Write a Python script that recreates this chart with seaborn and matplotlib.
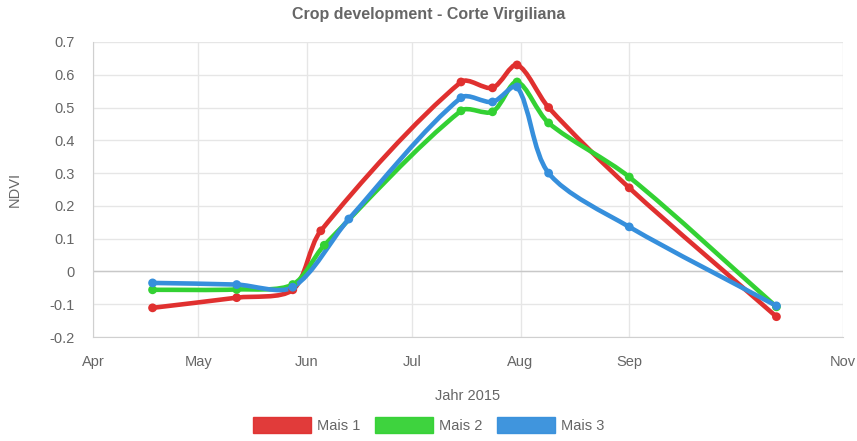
import numpy as np
import pandas as pd
import matplotlib
matplotlib.use("Agg")
import matplotlib.pyplot as plt
import matplotlib.dates as mdates
from matplotlib.path import Path
from matplotlib.patches import PathPatch, Patch
import seaborn as sns

# NDVI readings per field (dates differ slightly between the series)
dates_mais1 = ["2015-04-18", "2015-05-12", "2015-05-28", "2015-06-05", "2015-07-15",
               "2015-07-24", "2015-07-31", "2015-08-09", "2015-09-01", "2015-10-13"]
ndvi_mais1 = [-0.111, -0.080, -0.056, 0.124, 0.578, 0.560, 0.630, 0.500, 0.255, -0.138]

dates_mais2 = ["2015-04-18", "2015-05-12", "2015-05-28", "2015-06-06", "2015-07-15",
               "2015-07-24", "2015-07-31", "2015-08-09", "2015-09-01", "2015-10-13"]
ndvi_mais2 = [-0.056, -0.055, -0.040, 0.080, 0.490, 0.487, 0.578, 0.453, 0.288, -0.108]

dates_mais3 = ["2015-04-18", "2015-05-12", "2015-05-28", "2015-06-13", "2015-07-15",
               "2015-07-24", "2015-07-31", "2015-08-09", "2015-09-01", "2015-10-13"]
ndvi_mais3 = [-0.035, -0.040, -0.048, 0.160, 0.530, 0.517, 0.563, 0.300, 0.136, -0.105]

series_names = ["Mais 1", "Mais 2", "Mais 3"]
colors = {"Mais 1": "#e0302f", "Mais 2": "#33d133", "Mais 3": "#368fdc"}

month_ticks = ["2015-04-01", "2015-05-01", "2015-06-01", "2015-07-01",
               "2015-08-01", "2015-09-01", "2015-11-01"]
month_labels = ["Apr", "May", "Jun", "Jul", "Aug", "Sep", "Nov"]

df = pd.concat([
    pd.DataFrame({"date": pd.to_datetime(d), "ndvi": v, "field": n})
    for d, v, n in zip([dates_mais1, dates_mais2, dates_mais3],
                       [ndvi_mais1, ndvi_mais2, ndvi_mais3], series_names)
])

sns.set_style("white")
plt.rcParams["font.family"] = ["Liberation Sans", "DejaVu Sans"]
grey = "#666666"

fig = plt.figure(figsize=(8.57, 4.41), dpi=100)
ax = fig.add_axes([0.1085, 0.2358, 0.8752, 0.669])
ax.set_xlim(pd.Timestamp("2015-04-01"), pd.Timestamp("2015-11-01"))
ax.set_ylim(-0.2, 0.7)


def smooth_path(xs, ys, tension=0.3):
    # Chart.js style cubic bezier, control points computed in pixel space
    pts = ax.transData.transform(np.column_stack([xs, ys]))
    verts, codes = [pts[0]], [Path.MOVETO]
    n = len(pts)
    cps = []
    for i in range(n):
        prev = pts[max(i - 1, 0)]
        cur = pts[i]
        nxt = pts[min(i + 1, n - 1)]
        d01 = np.hypot(*(cur - prev))
        d12 = np.hypot(*(nxt - cur))
        tot = d01 + d12 if d01 + d12 > 0 else 1
        fa = tension * d01 / tot
        fb = tension * d12 / tot
        cps.append((cur - fa * (nxt - prev), cur + fb * (nxt - prev)))
    for i in range(1, n):
        verts += [cps[i - 1][1], cps[i][0], pts[i]]
        codes += [Path.CURVE4] * 3
    verts = ax.transData.inverted().transform(np.array(verts))
    return Path(verts, codes)


for name in series_names:
    sub = df[df["field"] == name]
    xs = mdates.date2num(sub["date"])
    ax.add_patch(PathPatch(smooth_path(xs, sub["ndvi"].values), fill=False,
                           edgecolor=colors[name], lw=3.3, zorder=3,
                           capstyle="round", joinstyle="round"))

sns.scatterplot(data=df, x="date", y="ndvi", hue="field", palette=colors,
                s=40, edgecolor="none", legend=False, zorder=4, ax=ax)

ax.set_xticks(pd.to_datetime(month_ticks))
ax.set_xticklabels(month_labels)
ax.set_yticks(np.round(np.arange(-0.2, 0.71, 0.1), 1))
ax.set_yticklabels(["-0.2", "-0.1", "0", "0.1", "0.2", "0.3", "0.4", "0.5", "0.6", "0.7"])
ax.grid(True, color="#e6e6e6", lw=1)
ax.axhline(0, color="#c8c8c8", lw=1, zorder=1)
for s in ["top", "right"]:
    ax.spines[s].set_visible(False)
for s in ["left", "bottom"]:
    ax.spines[s].set_color("#d0d0d0")
ax.tick_params(colors="#d0d0d0", labelcolor=grey, labelsize=10.5, length=8, width=1, pad=5)

ax.set_xlabel("Jahr 2015", color=grey, fontsize=10.5, labelpad=14)
ax.set_ylabel("NDVI", color=grey, fontsize=10.5, labelpad=20)
fig.suptitle("Crop development - Corte Virgiliana", color=grey, fontsize=11.5,
             fontweight="bold", y=0.985)

handles = [Patch(facecolor=colors[n], edgecolor=colors[n], alpha=0.95) for n in series_names]
fig.legend(handles, series_names, loc="lower center", ncol=3, frameon=False,
           bbox_to_anchor=(0.5, -0.012), handlelength=4.0, handleheight=1.35,
           columnspacing=1.0, handletextpad=0.4, fontsize=10.5, labelcolor=grey)

fig.savefig("out.png", dpi=100)
